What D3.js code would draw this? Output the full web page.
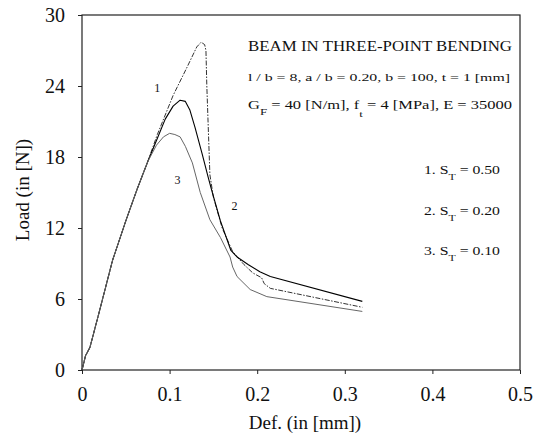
<!DOCTYPE html>
<html>
<head>
<meta charset="utf-8">
<script src="https://cdn.jsdelivr.net/npm/d3@7"></script>
<style>
  html, body { margin: 0; padding: 0; background: #fff; }
  svg { display: block; font-family: "Liberation Serif", "Times New Roman", serif; }
</style>
</head>
<body>
<svg id="chart" width="535" height="446"></svg>
<script>
// ---- data ----
const xTicks = [0, 0.1, 0.2, 0.3, 0.4, 0.5];
const xTickLabels = ["0", "0.1", "0.2", "0.3", "0.4", "0.5"];
const yTicks = [0, 6, 12, 18, 24, 30];

// common initial elastic branch
const commonDef  = [0, 0.004, 0.009, 0.020, 0.035, 0.050, 0.063, 0.075];
const commonLoad = [0, 1.2, 1.9, 5.0, 9.3, 12.6, 15.3, 17.6];

// curve 1 : S_T = 0.50
const curve1Def  = [0.086, 0.104, 0.120, 0.131, 0.136, 0.140, 0.1415, 0.1425, 0.146, 0.150, 0.160, 0.172, 0.185, 0.195, 0.205, 0.208, 0.215, 0.32];
const curve1Load = [19.9, 23.2, 25.6, 27.3, 27.7, 27.5, 27.0, 24.0, 16.5, 14.6, 12.0, 10.0, 8.9, 8.2, 7.8, 7.3, 6.9, 5.3];

// curve 2 : S_T = 0.20
const curve2Def  = [0.085, 0.095, 0.104, 0.112, 0.118, 0.123, 0.129, 0.137, 0.144, 0.148, 0.158, 0.170, 0.177, 0.190, 0.203, 0.215, 0.32];
const curve2Load = [19.4, 21.2, 22.3, 22.8, 22.7, 22.0, 20.5, 18.3, 16.3, 15.2, 12.6, 10.1, 9.55, 8.9, 8.3, 7.9, 5.8];

// curve 3 : S_T = 0.10
const curve3Def  = [0.085, 0.093, 0.100, 0.106, 0.112, 0.118, 0.126, 0.135, 0.146, 0.158, 0.169, 0.172, 0.177, 0.192, 0.211, 0.32];
const curve3Load = [19.0, 19.7, 20.0, 19.9, 19.7, 18.9, 17.5, 15.0, 12.7, 11.2, 9.55, 8.7, 7.9, 6.8, 6.2, 4.95];

const curveNames = ["1", "2", "3"];
const legendValues = ["0.50", "0.20", "0.10"];

// ---- layout ----
const svg = d3.select("#chart");
const mLeft = 82, mRight = 520, mTop = 15, mBottom = 370;
const x = d3.scaleLinear().domain([0, 0.5]).range([mLeft, mRight]);
const y = d3.scaleLinear().domain([0, 30]).range([mBottom, mTop]);

function build(defs, loads) {
  const pts = commonDef.map((d, i) => [d, commonLoad[i]]);
  defs.forEach((d, i) => pts.push([d, loads[i]]));
  return pts;
}
const curves = [
  { pts: build(curve1Def, curve1Load), stroke: "#333", dash: "5,1.5,1.5,1.5", w: 1 },
  { pts: build(curve2Def, curve2Load), stroke: "#000", dash: null, w: 1.1 },
  { pts: build(curve3Def, curve3Load), stroke: "#666", dash: null, w: 1 }
];

// axes
const xAxis = d3.axisBottom(x).tickValues(xTicks).tickFormat((d, i) => xTickLabels[i]).tickSize(4).tickPadding(13);
const yAxis = d3.axisLeft(y).tickValues(yTicks).tickSize(4).tickPadding(13);

const gx = svg.append("g").attr("transform", `translate(0,${mBottom})`).call(xAxis);
const gy = svg.append("g").attr("transform", `translate(${mLeft},0)`).call(yAxis);
[gx, gy].forEach(g => {
  g.select(".domain").remove();
  g.selectAll("line").attr("stroke", "#222").attr("stroke-width", 1);
  g.selectAll("text").attr("font-family", "Liberation Serif, Times New Roman, serif")
    .attr("font-size", 20).attr("fill", "#111");
});

// frame
svg.append("rect").attr("x", mLeft).attr("y", mTop).attr("width", mRight - mLeft).attr("height", mBottom - mTop)
  .attr("fill", "none").attr("stroke", "#222").attr("stroke-width", 1.2);

// curves
const line = d3.line().x(d => x(d[0])).y(d => y(d[1]));
curves.forEach(c => {
  const p = svg.append("path").datum(c.pts).attr("d", line)
    .attr("fill", "none").attr("stroke", c.stroke).attr("stroke-width", c.w)
    .attr("stroke-linejoin", "round");
  if (c.dash) p.attr("stroke-dasharray", c.dash);
});

// curve labels
const curveLabelPos = [[0.086, 23.5], [0.174, 13.5], [0.109, 15.7]];
curveLabelPos.forEach((p, i) => {
  svg.append("text").attr("x", x(p[0])).attr("y", y(p[1])).attr("text-anchor", "middle")
    .attr("font-size", 12).attr("fill", "#111").text(curveNames[i]);
});

// annotations
const ann = svg.append("g").attr("fill", "#111");
ann.append("text").attr("x", 248).attr("y", 51).attr("font-size", 14)
  .attr("textLength", 264).attr("lengthAdjust", "spacingAndGlyphs")
  .text("BEAM IN THREE-POINT BENDING");
ann.append("text").attr("x", 248).attr("y", 81).attr("font-size", 11)
  .attr("textLength", 262).attr("lengthAdjust", "spacingAndGlyphs")
  .text("l / b = 8, a / b = 0.20, b = 100, t = 1 [mm]");
const t3 = ann.append("text").attr("x", 248).attr("y", 109).attr("font-size", 11.5)
  .attr("textLength", 264).attr("lengthAdjust", "spacingAndGlyphs");
t3.append("tspan").text("G");
t3.append("tspan").attr("dy", 6).attr("font-size", 9).text("F");
t3.append("tspan").attr("dy", -6).text(" = 40 [N/m], f");
t3.append("tspan").attr("dy", 8).attr("font-size", 9).text("t");
t3.append("tspan").attr("dy", -8).text(" = 4 [MPa], E = 35000");

legendValues.forEach((v, i) => {
  const t = ann.append("text").attr("x", 424).attr("y", 174 + i * 40.5).attr("font-size", 12)
    .attr("textLength", 76).attr("lengthAdjust", "spacingAndGlyphs");
  t.append("tspan").text(`${curveNames[i]}. S`);
  t.append("tspan").attr("dy", 6).attr("font-size", 9).text("T");
  t.append("tspan").attr("dy", -6).text(` = ${v}`);
});

// axis titles
svg.append("text").attr("x", 305).attr("y", 429).attr("text-anchor", "middle")
  .attr("font-size", 19).attr("fill", "#111").text("Def.  (in [mm])");
svg.append("text").attr("transform", "translate(29,190) rotate(-90)").attr("text-anchor", "middle")
  .attr("font-size", 19).attr("fill", "#111").text("Load  (in [N])");
</script>
</body>
</html>
